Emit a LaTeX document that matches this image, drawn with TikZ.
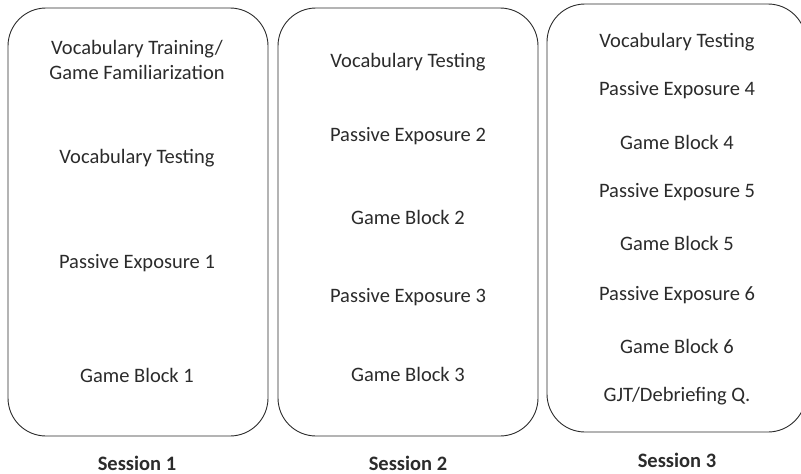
\documentclass[tikz,border=0pt]{standalone}
\usepackage{fontspec}
\setmainfont{Carlito}
\definecolor{inkgray}{HTML}{2B2B2B}
\begin{document}
\begin{tikzpicture}[x=1pt,y=-1pt,
  panel/.style={draw=inkgray, line width=0.9pt, rounded corners=38pt},
  item/.style={text=inkgray, font=\fontsize{20.5}{25}\selectfont, align=center, inner sep=0pt},
  caption/.style={text=inkgray, font=\fontsize{20.5}{24}\selectfont\bfseries, inner sep=0pt}]
  \useasboundingbox (0,0) rectangle (801,474);
  \clip (0,0) rectangle (801,474);
  % session panels
  \draw[panel] (8,8) rectangle (268,436);
  \draw[panel] (278,8) rectangle (538,436);
  \draw[panel] (547,4) rectangle (806,432);
  % session 1
  \node[item] (s1a) at (137,60) {Vocabulary Training/\\Game Familiarization};
  \node[item] (s1b) at (137,158) {Vocabulary Testing};
  \node[item] (s1c) at (137,263) {Passive Exposure 1};
  \node[item] (s1d) at (137,375) {Game Block 1};
  % session 2
  \node[item] (s2a) at (408,62) {Vocabulary Testing};
  \node[item] (s2b) at (408,136) {Passive Exposure 2};
  \node[item] (s2c) at (408,217) {Game Block 2};
  \node[item] (s2d) at (408,297) {Passive Exposure 3};
  \node[item] (s2e) at (408,374) {Game Block 3};
  % session 3
  \node[item] (s3a) at (677,42) {Vocabulary Testing};
  \node[item] (s3b) at (677,90) {Passive Exposure 4};
  \node[item] (s3c) at (677,142) {Game Block 4};
  \node[item] (s3d) at (677,192) {Passive Exposure 5};
  \node[item] (s3e) at (677,243) {Game Block 5};
  \node[item] (s3f) at (677,295) {Passive Exposure 6};
  \node[item] (s3g) at (677,346) {Game Block 6};
  \node[item] (s3h) at (677,396) {GJT/Debriefing Q.};
  % captions
  \node[caption] (c1) at (137,463) {Session 1};
  \node[caption] (c2) at (408,463) {Session 2};
  \node[caption] (c3) at (677,460) {Session 3};
\end{tikzpicture}
\end{document}
